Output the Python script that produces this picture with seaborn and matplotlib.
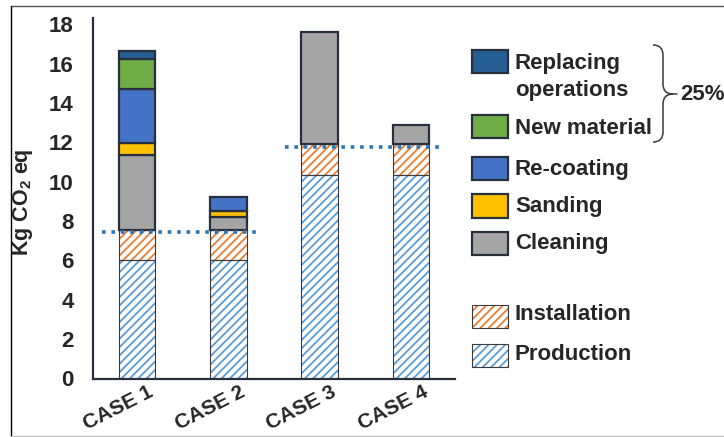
import numpy as np
import seaborn as sns
import matplotlib.pyplot as plt
from matplotlib.patches import Rectangle, PathPatch
from matplotlib.path import Path
from matplotlib.lines import Line2D
from matplotlib.transforms import ScaledTranslation

# Data (kg CO2 eq per case)
cases = ["CASE 1", "CASE 2", "CASE 3", "CASE 4"]
production = [6.0, 6.0, 10.35, 10.35]
installation = [1.55, 1.55, 1.57, 1.57]
cleaning = [3.8, 0.65, 5.68, 0.95]
sanding = [0.63, 0.3, 0.0, 0.0]
recoating = [2.76, 0.73, 0.0, 0.0]
new_material = [1.48, 0.0, 0.0, 0.0]
replacing = [0.42, 0.0, 0.0, 0.0]

# dotted reference levels and the cases they span
baseline_levels = [7.43, 11.78]
baseline_groups = [(0, 1), (2, 3)]
brace_label = "25%"

layers = [
    ("Production", production, "#5B9BD5", True),
    ("Installation", installation, "#ED7D31", True),
    ("Cleaning", cleaning, "#A5A5A5", False),
    ("Sanding", sanding, "#FFC000", False),
    ("Re-coating", recoating, "#4472C4", False),
    ("New material", new_material, "#70AD47", False),
    ("Replacing\noperations", replacing, "#255E91", False),
]

sns.set_theme(style="white")
plt.rcParams["font.family"] = ["Liberation Sans", "DejaVu Sans"]
plt.rcParams["mathtext.fontset"] = "custom"
plt.rcParams["mathtext.bf"] = "Liberation Sans:bold"
plt.rcParams["mathtext.rm"] = "Liberation Sans:bold"
plt.rcParams["mathtext.default"] = "bf"
plt.rcParams["hatch.linewidth"] = 1.3

text_col = "#262626"
edge_col = "#27303C"
fs = 16

fig = plt.figure(figsize=(7.24, 4.37), dpi=100)
W, H = 724, 437
ax = fig.add_axes([93 / W, 1 - 378.5 / H, 362 / W, 360.5 / H])

bottom = np.zeros(len(cases))
for name, vals, color, hatched in layers:
    vals = np.asarray(vals, dtype=float)
    n0 = len(ax.patches)
    sns.barplot(x=cases, y=vals, order=cases, width=0.4, saturation=1,
                color=color, errorbar=None, ax=ax)
    for i, p in enumerate(ax.patches[n0:]):
        p.set_y(bottom[i])
        p.set_height(vals[i])
        if vals[i] <= 0:
            p.set_visible(False)
            continue
        if hatched:
            p.set_facecolor("white")
            p.set_hatch("////")
            p.set_edgecolor(color)
            p.set_linewidth(0)
            p.set_zorder(2)
            ax.add_patch(Rectangle(p.get_xy(), p.get_width(), p.get_height(),
                                   fill=False, ec="#3A3A3A", lw=0.8, zorder=2.5))
        else:
            p.set_facecolor(color)
            p.set_edgecolor(edge_col)
            p.set_linewidth(1.6)
            p.set_zorder(3)
    bottom += vals

# dotted baselines
for level, (a, b) in zip(baseline_levels, baseline_groups):
    ax.plot([a - 0.38, b + 0.34], [level, level], color="#2E75B6", lw=2.6,
            linestyle=(0, (1, 1.6)), dash_capstyle="butt", zorder=5)

ax.set_xlim(-0.48, 3.48)
ax.set_ylim(0, 18.33)
ax.set_yticks(range(0, 19, 2))
ax.tick_params(axis="both", length=0, colors=text_col, labelsize=fs)
ax.tick_params(axis="y", pad=14)
ax.tick_params(axis="x", pad=3)
for lab in ax.get_yticklabels():
    lab.set_fontweight("bold")
offset = ScaledTranslation(0.11, 0, fig.dpi_scale_trans)
for lab in ax.get_xticklabels():
    lab.set_fontweight("bold")
    lab.set_fontsize(15)
    lab.set_rotation(27)
    lab.set_ha("right")
    lab.set_va("top")
    lab.set_rotation_mode("anchor")
    lab.set_transform(lab.get_transform() + offset)
ax.set_xlabel("")
ax.set_ylabel("Kg CO$_2$ eq", fontsize=15.5, fontweight="bold", color=text_col)
ax.yaxis.set_label_coords(-0.16, 0.49)

sns.despine(ax=ax)
for s in ["left", "bottom"]:
    ax.spines[s].set_color(edge_col)
    ax.spines[s].set_linewidth(1.6)

# custom legend on the right (top layer first)
patch_y = [61, 127, 168, 206, 244, 316, 355]
text_y = [77, 128, 169, 207, 244, 315, 355]
for (name, vals, color, hatched), py, ty in zip(reversed(layers), patch_y, text_y):
    if hatched:
        fig.add_artist(Rectangle((472 / W, 1 - (py + 11.5) / H), 36 / W, 23 / H,
                                 transform=fig.transFigure, facecolor="white",
                                 hatch="////", edgecolor=color, lw=0))
        fig.add_artist(Rectangle((472 / W, 1 - (py + 11.5) / H), 36 / W, 23 / H,
                                 transform=fig.transFigure, fill=False,
                                 ec="#3A3A3A", lw=0.8))
    else:
        fig.add_artist(Rectangle((472 / W, 1 - (py + 11.5) / H), 36 / W, 23 / H,
                                 transform=fig.transFigure, facecolor=color,
                                 edgecolor=edge_col, lw=1.6))
    fig.text(515 / W, 1 - ty / H, name, ha="left", va="center", fontsize=fs,
             fontweight="bold", color=text_col, linespacing=1.4)

# curly brace around the first two legend entries
def px(x, y):
    return (x / W, 1 - y / H)

verts = [px(653, 45), px(663, 45), px(663, 55),
         px(663, 84),
         px(663, 94), px(673, 94),
         px(663, 94), px(663, 104),
         px(663, 132),
         px(663, 142), px(653, 142)]
codes = [Path.MOVETO, Path.CURVE3, Path.CURVE3,
         Path.LINETO,
         Path.CURVE3, Path.CURVE3,
         Path.CURVE3, Path.CURVE3,
         Path.LINETO,
         Path.CURVE3, Path.CURVE3]
fig.add_artist(PathPatch(Path(verts, codes), transform=fig.transFigure,
                         fill=False, ec="#3A3A3A", lw=1.1))
fig.add_artist(Line2D([673 / W, 677 / W], [1 - 94 / H, 1 - 94 / H],
                      transform=fig.transFigure, color="#3A3A3A", lw=1.1))
fig.text(680 / W, 1 - 95 / H, brace_label, ha="left", va="center", fontsize=fs,
         fontweight="bold", color=text_col)

# frame lines of the original screenshot
fig.add_artist(Line2D([11 / W, 1], [1 - 5.5 / H, 1 - 5.5 / H],
                      transform=fig.transFigure, color="#555555", lw=1))
fig.add_artist(Line2D([11 / W, 11 / W], [0, 1 - 5.5 / H],
                      transform=fig.transFigure, color="black", lw=1))
fig.add_artist(Line2D([11 / W, 1], [1 - 436 / H, 1 - 436 / H],
                      transform=fig.transFigure, color="#BBBBBB", lw=1))

plt.savefig("out.png", dpi=100)
